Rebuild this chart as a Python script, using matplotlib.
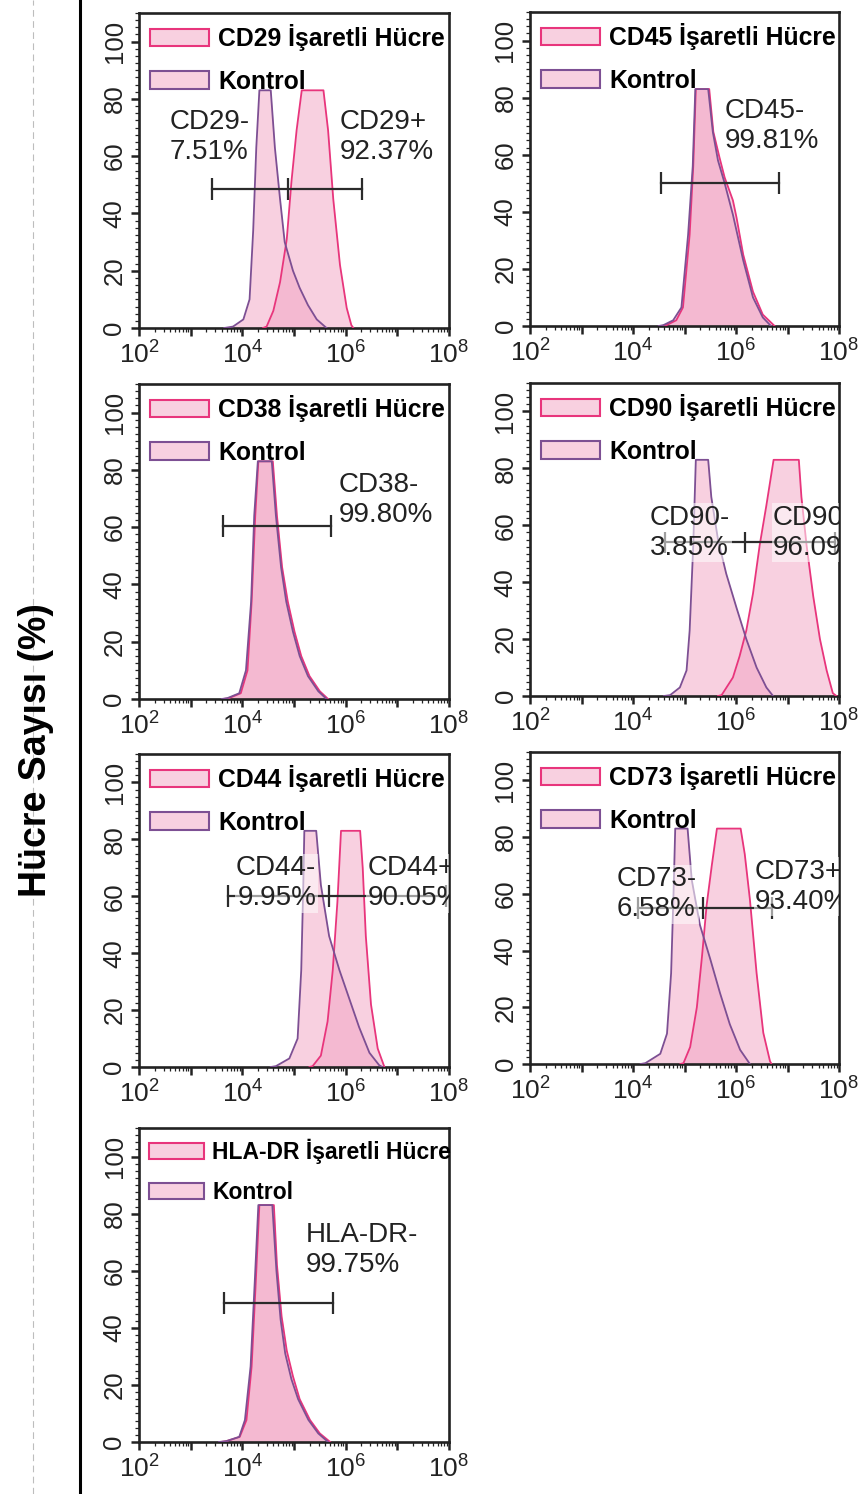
import numpy as np
import matplotlib.pyplot as plt
from matplotlib.lines import Line2D
from matplotlib.patches import Patch
from matplotlib.colors import to_rgba
from matplotlib.ticker import FixedLocator, LogLocator, MultipleLocator, NullFormatter

plt.rcParams['font.family'] = ['Liberation Sans', 'DejaVu Sans']

# histogram outlines: log10(intensity) and cell count (%)
cd29_ctrl_log = [3.65, 3.82, 4.02, 4.14, 4.21, 4.27, 4.33, 4.55, 4.63, 4.73, 4.82, 4.98, 5.11, 5.27, 5.44, 5.63]
cd29_ctrl_pct = [0, 0.5, 3, 10, 34, 63, 83, 83, 63, 45, 30, 20, 14, 8, 3, 0]
cd29_mark_log = [4.40, 4.47, 4.60, 4.73, 4.86, 4.95, 5.05, 5.15, 5.57, 5.66, 5.76, 5.89, 6.02, 6.11, 6.15]
cd29_mark_pct = [0, 0.5, 6, 16, 31, 51, 69, 83, 83, 69, 45, 22, 7, 1, 0]

cd45_ctrl_log = [4.50, 4.59, 4.78, 4.94, 5.07, 5.16, 5.21, 5.46, 5.55, 5.65, 5.78, 5.94, 6.14, 6.33, 6.52, 6.68]
cd45_ctrl_pct = [0, 0.3, 2, 6.5, 32, 56, 83, 83, 68, 58, 50, 39, 23, 10, 3, 0]
cd45_mark_log = [4.55, 4.65, 4.84, 4.97, 5.10, 5.17, 5.22, 5.48, 5.56, 5.68, 5.78, 5.94, 6.01, 6.14, 6.33, 6.52, 6.75]
cd45_mark_pct = [0, 0.3, 2, 6.5, 32, 56, 83, 83, 68, 59, 52, 44, 38, 25, 12, 4, 0]

cd38_ctrl_log = [3.60, 3.71, 3.94, 4.07, 4.17, 4.23, 4.30, 4.57, 4.65, 4.75, 4.85, 4.98, 5.11, 5.27, 5.47, 5.63]
cd38_ctrl_pct = [0, 0.3, 2, 10, 34, 64, 83, 83, 64, 46, 34, 23.5, 15, 8, 2.7, 0]
cd38_mark_log = [3.63, 3.74, 3.97, 4.10, 4.18, 4.25, 4.31, 4.59, 4.67, 4.77, 4.88, 5.01, 5.14, 5.30, 5.50, 5.66]
cd38_mark_pct = [0, 0.3, 2, 10, 34, 64, 83, 83, 64, 46, 34, 23.5, 15, 8, 2.7, 0]

cd90_ctrl_log = [4.60, 4.72, 4.91, 5.04, 5.10, 5.17, 5.22, 5.46, 5.52, 5.65, 5.81, 6.01, 6.20, 6.40, 6.59, 6.72]
cd90_ctrl_pct = [0, 0.3, 3, 9, 23, 53, 83, 83, 70, 55, 43, 31, 20, 10, 3, 0]
cd90_mark_log = [5.65, 5.72, 5.94, 6.07, 6.20, 6.33, 6.46, 6.59, 6.73, 7.22, 7.27, 7.37, 7.50, 7.63, 7.76, 7.88, 7.95]
cd90_mark_pct = [0, 0.3, 6.5, 14, 23, 36, 53, 67, 83, 83, 70, 53, 35, 20, 9, 1, 0]

cd44_ctrl_log = [4.55, 4.65, 4.91, 5.07, 5.14, 5.18, 5.20, 5.43, 5.52, 5.68, 5.88, 6.07, 6.26, 6.46, 6.65, 6.71]
cd44_ctrl_pct = [0, 0.3, 3, 10, 34, 64, 83, 83, 64, 46, 34, 24, 14, 5, 0.6, 0]
cd44_mark_log = [5.30, 5.36, 5.52, 5.65, 5.75, 5.84, 5.91, 6.28, 6.33, 6.39, 6.49, 6.62, 6.75]
cd44_mark_pct = [0, 0.3, 4, 16, 34, 58, 83, 83, 70, 46, 22, 6.5, 0]

cd73_ctrl_log = [4.15, 4.24, 4.53, 4.66, 4.74, 4.79, 4.82, 5.06, 5.14, 5.30, 5.50, 5.69, 5.88, 6.08, 6.27]
cd73_ctrl_pct = [0, 0.3, 3.6, 10.7, 32, 62, 83, 83, 65, 49, 37, 25, 14, 5, 0]
cd73_mark_log = [4.92, 4.98, 5.11, 5.24, 5.34, 5.43, 5.53, 5.63, 6.09, 6.17, 6.27, 6.40, 6.53, 6.66, 6.69]
cd73_mark_pct = [0, 0.3, 6, 20, 38, 56, 70, 83, 83, 74, 58, 32, 11, 1, 0]

hla_ctrl_log = [3.55, 3.69, 3.94, 4.05, 4.16, 4.24, 4.31, 4.58, 4.66, 4.74, 4.83, 4.95, 5.08, 5.28, 5.47, 5.66]
hla_ctrl_pct = [0, 0.3, 1.8, 7.7, 26.5, 56, 83, 83, 60, 43, 31, 22, 15, 7.7, 3, 0]
hla_mark_log = [3.58, 3.69, 3.95, 4.08, 4.18, 4.26, 4.33, 4.61, 4.67, 4.76, 4.86, 4.98, 5.11, 5.31, 5.50, 5.70]
hla_mark_pct = [0, 0.3, 1.8, 7.7, 26.5, 56, 83, 83, 62, 44, 32, 23, 15, 7.7, 3, 0]

markers = ['CD29', 'CD45', 'CD38', 'CD90', 'CD44', 'CD73', 'HLA-DR']

# gate markers: cap positions (log10) and height (%)
gate_caps = [[3.42, 4.88, 6.32], [4.54, 6.83], [3.63, 5.71], [4.62, 6.17, 7.92],
             [3.72, 5.68, 7.94], [4.09, 5.35, 6.70], [3.65, 5.75]]
gate_level = [48.5, 50, 60.5, 54, 60, 55, 48.8]

# gate percentages: (text, log10 x, y %, alignment)
gate_labels = [
    [('CD29-\n7.51%', 2.59, 66.7, 'left'), ('CD29+\n92.37%', 5.89, 66.7, 'left')],
    [('CD45-\n99.81%', 5.78, 70.0, 'left')],
    [('CD38-\n99.80%', 5.86, 69.5, 'left')],
    [('CD90-\n3.85%', 4.33, 57.4, 'left'), ('CD90+\n96.09%', 6.72, 57.4, 'left')],
    [('CD44-\n9.95%', 5.43, 64.5, 'right'), ('CD44+\n90.05%', 6.42, 64.5, 'left')],
    [('CD73-\n6.58%', 3.69, 59.8, 'left'), ('CD73+\n93.40%', 6.37, 62.5, 'left')],
    [('HLA-DR-\n99.75%', 5.23, 67.4, 'left')],
]

curves = [
    (cd29_ctrl_log, cd29_ctrl_pct, cd29_mark_log, cd29_mark_pct),
    (cd45_ctrl_log, cd45_ctrl_pct, cd45_mark_log, cd45_mark_pct),
    (cd38_ctrl_log, cd38_ctrl_pct, cd38_mark_log, cd38_mark_pct),
    (cd90_ctrl_log, cd90_ctrl_pct, cd90_mark_log, cd90_mark_pct),
    (cd44_ctrl_log, cd44_ctrl_pct, cd44_mark_log, cd44_mark_pct),
    (cd73_ctrl_log, cd73_ctrl_pct, cd73_mark_log, cd73_mark_pct),
    (hla_ctrl_log, hla_ctrl_pct, hla_mark_log, hla_mark_pct),
]

FILL = '#f2a3c3'
FILL_ALPHA = 0.5
MARK_EDGE = '#e8357c'
CTRL_EDGE = '#7d4f93'

W, H = 865, 1494
# axes boxes in pixels: left, top, right, bottom
boxes = [(139, 13, 449, 328), (530, 12, 839, 326),
         (139, 384, 449, 699), (530, 383, 839, 696),
         (139, 754, 449, 1067), (530, 752, 839, 1064),
         (139, 1128, 449, 1442)]

fig = plt.figure(figsize=(W / 100, H / 100), dpi=100)

fig.add_artist(Line2D([33 / W, 33 / W], [0, 1], color='#bdbdbd', lw=0.8, ls=(0, (6, 4))))
fig.add_artist(Line2D([80 / W, 80 / W], [0, 1], color='black', lw=2.2))
fig.text(36 / W, 1 - 750 / H, 'Hücre Sayısı (%)', rotation=90, fontsize=27,
         fontweight='bold', ha='center', va='center')

for i, name in enumerate(markers):
    l, t, r, b = boxes[i]
    ax = fig.add_axes([l / W, 1 - b / H, (r - l) / W, (b - t) / H])
    c_log, c_pct, m_log, m_pct = curves[i]
    cx = 10.0 ** np.array(c_log)
    mx = 10.0 ** np.array(m_log)

    ax.fill_between(cx, c_pct, 0, color=FILL, alpha=FILL_ALPHA, lw=0, zorder=1)
    ax.fill_between(mx, m_pct, 0, color=FILL, alpha=FILL_ALPHA, lw=0, zorder=1)
    ax.plot(mx, m_pct, color=MARK_EDGE, lw=1.3, zorder=3)
    ax.plot(cx, c_pct, color=CTRL_EDGE, lw=1.3, zorder=3)

    # gate bar with end caps
    gx = 10.0 ** np.array(gate_caps[i])
    gy = gate_level[i]
    ax.plot([gx[0], gx[-1]], [gy, gy], color='#2b2b2b', lw=1.6, zorder=4)
    ax.vlines(gx, gy - 3.8, gy + 3.8, color='#2b2b2b', lw=1.6, zorder=4)

    for txt, lx, ly, ha in gate_labels[i]:
        ax.text(10.0 ** lx, ly, txt, fontsize=20, ha=ha, va='center', color='#222222',
                linespacing=1.2, zorder=5, clip_on=True,
                bbox=dict(facecolor='white', alpha=0.55, edgecolor='none', pad=1.0))

    handles = [Patch(facecolor=to_rgba(FILL, FILL_ALPHA), edgecolor=MARK_EDGE, lw=1.5),
               Patch(facecolor=to_rgba(FILL, FILL_ALPHA), edgecolor=CTRL_EDGE, lw=1.5)]
    labels = [name + ' İşaretli Hücre', 'Kontrol']
    leg_fs = 17.8 if len(name) <= 4 else 16.5
    ax.legend(handles, labels, loc='upper left', frameon=False,
              prop={'weight': 'bold', 'size': leg_fs},
              handlelength=2.4, handleheight=0.7, handletextpad=0.35,
              labelspacing=0.75, borderaxespad=0.15, borderpad=0.3)

    ax.set_xscale('log')
    ax.set_xlim(1e2, 1e8)
    ax.set_ylim(0, 110)
    exps = np.arange(2, 9)
    ax.xaxis.set_major_locator(FixedLocator(10.0 ** exps))
    ax.set_xticklabels([r'$\mathdefault{10^{%d}}$' % e if e % 2 == 0 else '' for e in exps],
                       fontsize=19)
    ax.xaxis.set_minor_locator(LogLocator(base=10, subs=np.arange(2, 10), numticks=20))
    ax.xaxis.set_minor_formatter(NullFormatter())
    ax.set_yticks(np.arange(0, 101, 20))
    ax.set_yticklabels([str(v) for v in range(0, 101, 20)], rotation=90, va='center',
                       fontsize=18.5)
    ax.yaxis.set_minor_locator(MultipleLocator(2.5))
    ax.tick_params(axis='x', which='major', pad=4)
    ax.tick_params(axis='y', which='major', pad=3)
    ax.tick_params(which='major', direction='out', length=6, width=1.8, colors='#222222')
    ax.tick_params(which='minor', direction='out', length=3, width=0.9, colors='#222222')
    for s in ax.spines.values():
        s.set_linewidth(1.9)
        s.set_color('#222222')

fig.savefig('out.png', dpi=100)
